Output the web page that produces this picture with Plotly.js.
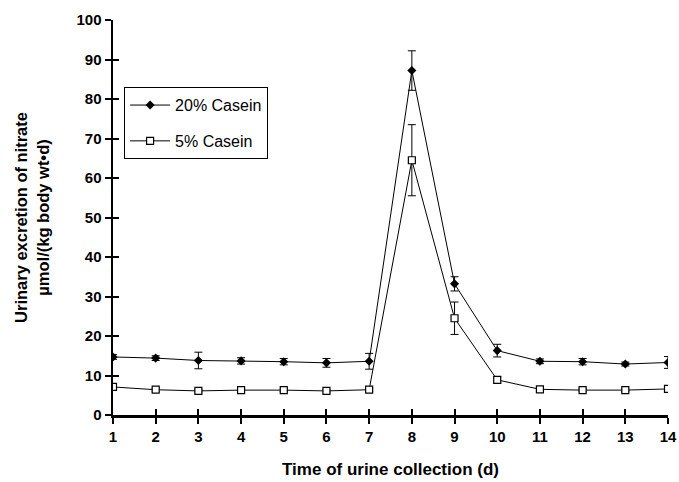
<!DOCTYPE html>
<html>
<head>
<meta charset="utf-8">
<script src="https://cdn.plot.ly/plotly-3.0.1.min.js"></script>
<style>html,body{margin:0;padding:0;background:#fff;}#chart{width:679px;height:482px;}</style>
</head>
<body>
<div id="chart"></div>
<script>
const days = [1,2,3,4,5,6,7,8,9,10,11,12,13,14];
const casein20 = [14.7,14.4,13.8,13.7,13.5,13.2,13.6,87.2,33.2,16.3,13.6,13.5,12.9,13.3];
const casein20Err = [0.6,0.6,2.1,0.8,0.8,1.1,2.0,5.0,1.8,1.6,0.6,0.8,0.5,1.5];
const casein5 = [7.1,6.4,6.1,6.3,6.3,6.1,6.4,64.5,24.5,8.9,6.5,6.3,6.3,6.6];
const casein5Err = [0.4,0.4,0.3,0.3,0.3,0.3,0.4,9.0,4.1,0.8,0.4,0.3,0.3,0.4];
const xTicks = [1,2,3,4,5,6,7,8,9,10,11,12,13,14];
const yTicks = [0,10,20,30,40,50,60,70,80,90,100];

const FONT = 'Liberation Sans, Arial, sans-serif';
const traces = [
  {x: days, y: casein20, name: '20% Casein', legendgroup: 'a', type: 'scatter', mode: 'lines+markers',
   line: {color: '#000', width: 1},
   marker: {symbol: 'diamond', size: 7, color: '#000'},
   error_y: {type: 'data', array: casein20Err, visible: true, color: '#000', thickness: 1, width: 4}},
  {x: days, y: casein5, name: '5% Casein', legendgroup: 'b', type: 'scatter', mode: 'lines+markers',
   line: {color: '#000', width: 1},
   marker: {symbol: 'square', size: 7, color: '#fff', line: {color: '#000', width: 1.2}},
   error_y: {type: 'data', array: casein5Err, visible: true, color: '#000', thickness: 1, width: 4}},
  {x: [1], y: [null], xaxis: 'x2', yaxis: 'y2', showlegend: false, hoverinfo: 'skip', mode: 'markers'}
];

const tickFont = {family: FONT, size: 15, color: '#000', weight: 'bold'};
const layout = {
  width: 679, height: 482,
  margin: {l: 113, r: 11, t: 20, b: 67},
  paper_bgcolor: '#fff', plot_bgcolor: '#fff',
  showlegend: true,
  legend: {x: 0.02, y: 0.83, xanchor: 'left', yanchor: 'top',
    bordercolor: '#000', borderwidth: 1, bgcolor: '#fff',
    font: {family: FONT, size: 16, color: '#000'},
    tracegroupgap: 12, itemwidth: 40},
  xaxis: {range: [1, 14], tickvals: xTicks, ticktext: xTicks.map(String),
    showgrid: false, zeroline: false, showline: true, linecolor: '#000', linewidth: 2.5,
    ticks: 'outside', ticklen: 6, tickwidth: 2, tickcolor: '#000',
    tickfont: tickFont,
    title: {text: 'Time of urine collection (d)', standoff: 20,
      font: {family: FONT, size: 17, color: '#000', weight: 'bold'}}},
  yaxis: {range: [0, 100], tickvals: yTicks, ticktext: yTicks.map(String),
    showgrid: false, zeroline: false, showline: true, linecolor: '#000', linewidth: 2.5,
    ticks: 'outside', ticklen: 6, tickwidth: 2, tickcolor: '#000',
    tickfont: tickFont,
    title: {text: 'Urinary excretion of nitrate<br>µmol/(kg body wt•d)', standoff: 23,
      font: {family: FONT, size: 16.5, color: '#000', weight: 'bold'}}},
  xaxis2: {overlaying: 'x', anchor: 'y', range: [1, 14], tickvals: xTicks, showticklabels: false,
    showgrid: false, zeroline: false, showline: false, ticks: 'inside', ticklen: 6, tickwidth: 2, tickcolor: '#000', side: 'bottom'},
  yaxis2: {overlaying: 'y', anchor: 'x', range: [0, 100], tickvals: yTicks, showticklabels: false,
    showgrid: false, zeroline: false, showline: false, ticks: 'inside', ticklen: 6, tickwidth: 2, tickcolor: '#000', side: 'left'}
};

Plotly.newPlot('chart', traces, layout, {displayModeBar: false, staticPlot: true});
</script>
</body>
</html>
